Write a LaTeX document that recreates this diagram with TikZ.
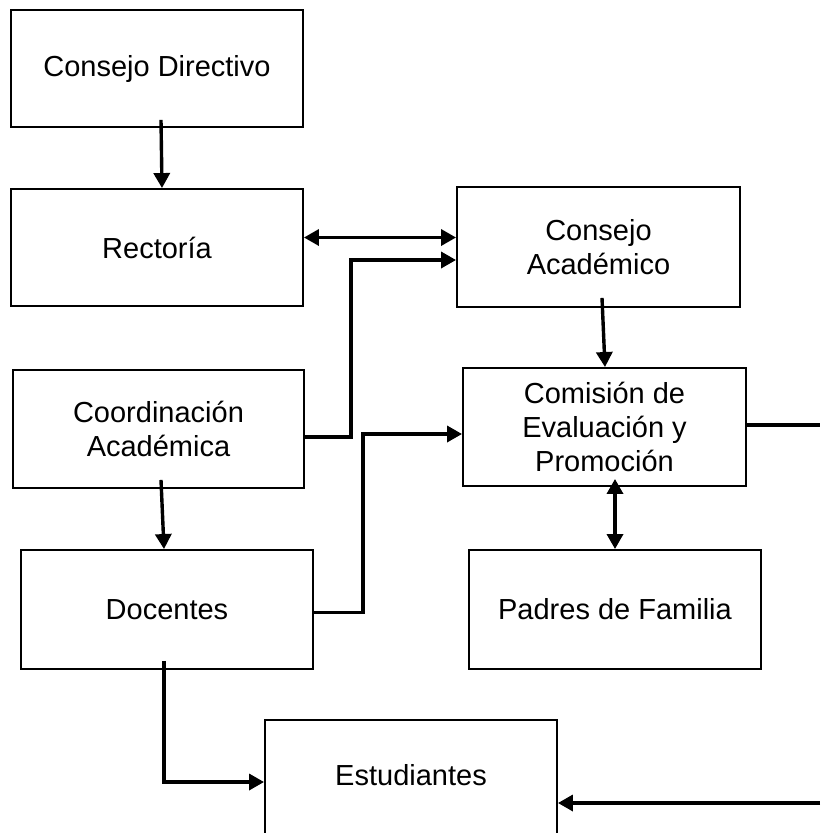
\documentclass[tikz,border=0pt]{standalone}
\usepackage{fontspec}
\setmainfont{Liberation Sans}
\usetikzlibrary{arrows.meta}
\begin{document}
\begin{tikzpicture}[x=1pt,y=-1pt,
 box/.style={draw, line width=1.9pt, inner sep=0pt, align=center, font=\fontsize{29}{34}\selectfont},
 lab/.style={inner sep=0pt, font=\fontsize{29}{34}\selectfont},
 conn/.style={line width=3.4pt},
 arr/.style={conn, -{Triangle[length=15pt,width=16pt]}},
 darr/.style={conn, {Triangle[length=15pt,width=16pt]}-{Triangle[length=15pt,width=16pt]}}]
\useasboundingbox (0,0) rectangle (820,833);
\fill[white] (0,0) rectangle (820,833);
\clip (0,0) rectangle (820,833);
% boxes
\node[box, minimum width=292pt, minimum height=117pt] (cd) at (157,68.5) {Consejo Directivo};
\node[box, minimum width=292pt, minimum height=117pt] (rec) at (157,247.5) {Rector\'ia};
\node[box, minimum width=283pt, minimum height=120pt] (ca) at (598.5,247) {Consejo\\Acad\'emico};
\node[box, minimum width=291pt, minimum height=118pt] (coord) at (158.5,429) {Coordinaci\'on\\Acad\'emica};
\node[box, minimum width=283pt, minimum height=118pt] (com) at (604.5,427) {Comisi\'on de\\Evaluaci\'on y\\Promoci\'on};
\node[box, minimum width=292pt, minimum height=119pt] (doc) at (167,609.5) {Docentes};
\node[box, minimum width=292pt, minimum height=119pt] (pad) at (615,609.5) {Padres de Familia};
\node[box, minimum width=292pt, minimum height=160pt, anchor=north] (est) at (411,719) {};
\node[lab] (estl) at (411,775) {Estudiantes};
% helper coordinates
\coordinate (e1) at (0,782);
\coordinate (r1) at (820,425);
\coordinate (r2) at (820,803);
% connectors
\draw[arr] ([xshift=4pt,yshift=8pt]cd.south) -- ([xshift=5pt]rec.north);
\draw[darr] ([yshift=10pt]rec.east) -- ([yshift=10pt]rec.east -| ca.west);
\draw[arr] ([yshift=-8pt]coord.east) -- ++(46,0) |- ([yshift=-13pt]ca.west);
\draw[arr] ([xshift=3.5pt,yshift=10pt]ca.south) -- ([xshift=0.5pt]com.north);
\draw[arr] ([yshift=-3pt]doc.east) -- ++(49,0) |- ([yshift=-7pt]com.west);
\draw[conn] (com.east |- r1) -- (r1);
\draw[darr] ([yshift=8pt]com.south -| pad.north) -- (pad.north);
\draw[arr] ([xshift=2.5pt,yshift=9pt]coord.south) -- ([xshift=-3pt]doc.north);
\draw[arr] ([xshift=-3pt,yshift=9pt]doc.south) |- (est.west |- e1);
\draw[arr] (r2) -- (r2 -| est.east);
\end{tikzpicture}
\end{document}
